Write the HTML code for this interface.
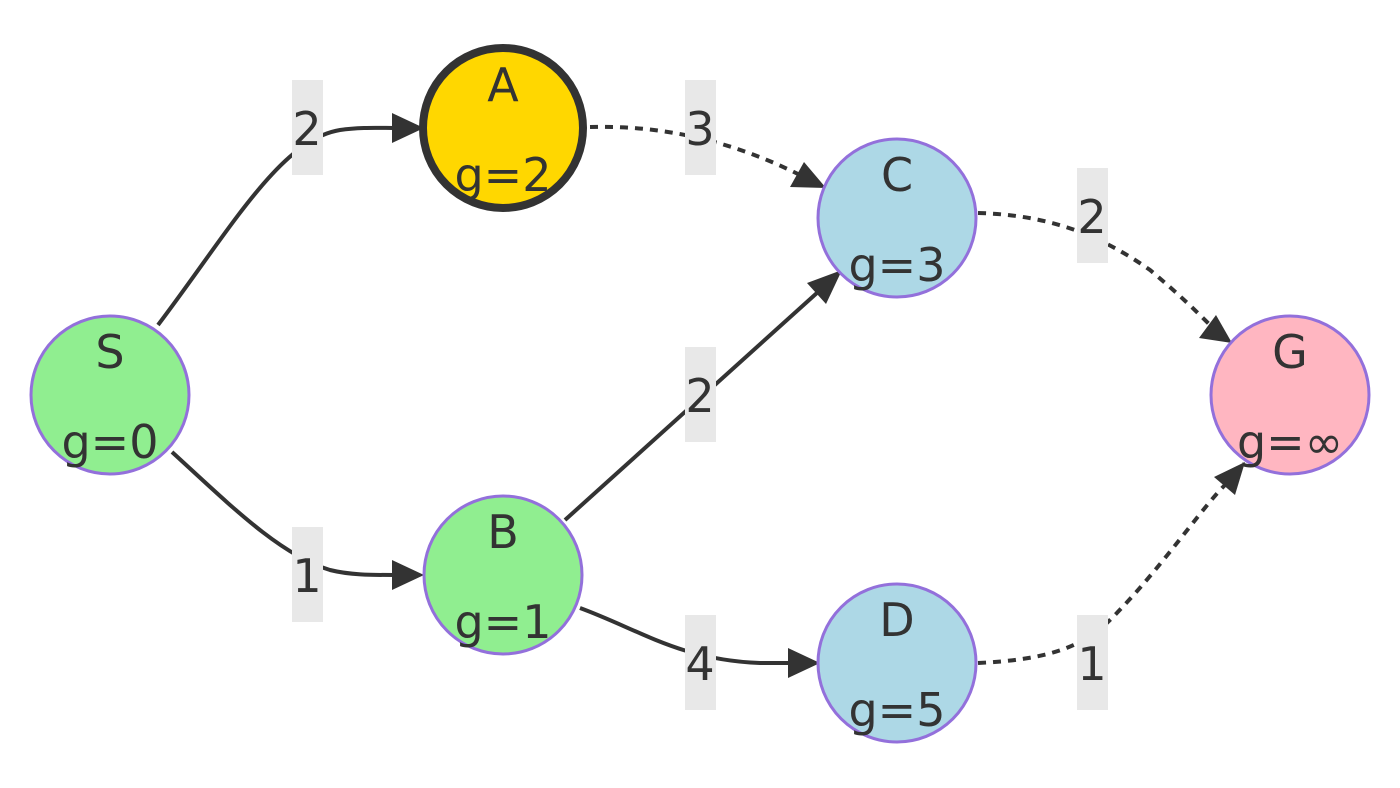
<!DOCTYPE html>
<html><head><meta charset="utf-8"><style>
html,body{margin:0;padding:0;background:#fff;}
svg{display:block;}
text{font-family:"DejaVu Sans","Liberation Sans",sans-serif;fill:#333;font-size:46px;text-anchor:middle;font-weight:500;}
</style></head><body>
<svg width="1400" height="788" viewBox="0 0 1400 788" xmlns="http://www.w3.org/2000/svg">
<g fill="none" stroke="#333" stroke-width="4">
<path d="M158,325 C230,230 280,140 340,130 C360,127 380,128 395,128"/>
<path d="M172,452 C230,505 280,555 330,570 C350,575 370,575 395,575"/>
<path d="M565,520 L818,292"/>
<path d="M580,608 C640,630 680,660 760,663 L790,663"/>
<path d="M590,127 C660,125 730,140 800,175" stroke-dasharray="8,7"/>
<path d="M978,213 C1050,215 1100,235 1150,270 C1180,295 1200,315 1210,325" stroke-dasharray="8,7"/>
<path d="M978,663 C1040,660 1080,650 1110,620 C1160,570 1200,510 1225,485" stroke-dasharray="8,7"/>
</g>
<g fill="#333">
<polygon points="424,128 392,113 392,143"/>
<polygon points="424,575 392,560 392,590"/>
<polygon points="842,270 807,283 826,304"/>
<polygon points="820,663 788,648 788,678"/>
<polygon points="826,188 790,187 804,162"/>
<polygon points="1232,343 1199,338 1216,315"/>
<polygon points="1245,462 1235,495 1214,477"/>
</g>
<g fill="#e8e8e8">
<rect x="292" y="80" width="31" height="95"/>
<rect x="685" y="80" width="31" height="95"/>
<rect x="1077" y="168" width="31" height="95"/>
<rect x="685" y="347" width="31" height="95"/>
<rect x="292" y="527" width="31" height="95"/>
<rect x="685" y="615" width="31" height="95"/>
<rect x="1077" y="615" width="31" height="95"/>
</g>
<text x="307" y="145">2</text>
<text x="700" y="145">3</text>
<text x="1092" y="233">2</text>
<text x="700" y="412">2</text>
<text x="307" y="592">1</text>
<text x="700" y="680">4</text>
<text x="1092" y="680">1</text>
<g stroke="#9370DB" stroke-width="3">
<circle cx="110" cy="395" r="79" fill="#90EE90"/>
<circle cx="503" cy="575" r="79" fill="#90EE90"/>
<circle cx="897" cy="218" r="79" fill="#ADD8E6"/>
<circle cx="897" cy="663" r="79" fill="#ADD8E6"/>
<circle cx="1290" cy="395" r="79" fill="#FFB6C1"/>
<circle cx="503" cy="128" r="80" fill="#FFD700" stroke="#333" stroke-width="8"/>
</g>
<text x="110" y="368">S</text><text x="110" y="458">g=0</text>
<text x="503" y="101">A</text><text x="503" y="191">g=2</text>
<text x="503" y="548">B</text><text x="503" y="638">g=1</text>
<text x="897" y="191">C</text><text x="897" y="281">g=3</text>
<text x="897" y="636">D</text><text x="897" y="726">g=5</text>
<text x="1290" y="368">G</text><text x="1290" y="458">g=∞</text>
</svg>
</body></html>
